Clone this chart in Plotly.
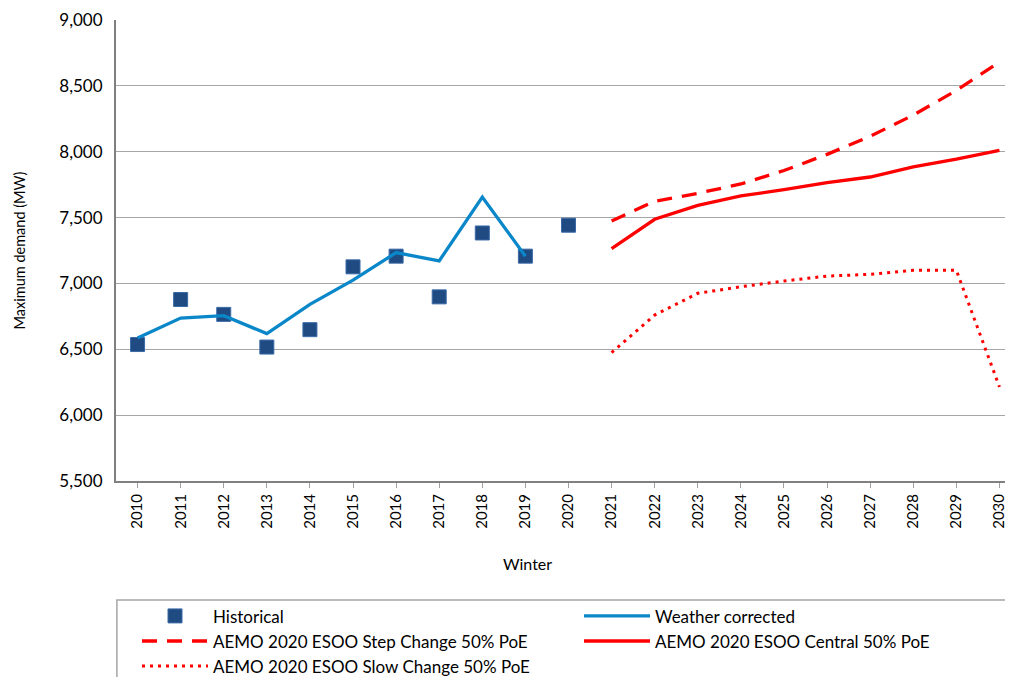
import plotly.graph_objects as go

years = list(range(2010, 2031))
hist_years = list(range(2010, 2021))
historical = [6536, 6878, 6765, 6517, 6649, 7126, 7207, 6898, 7383, 7207, 7442]
wc_years = list(range(2010, 2020))
weather_corrected = [6586, 6737, 6755, 6619, 6841, 7025, 7234, 7171, 7656, 7207]
fc_years = list(range(2021, 2031))
step_change = [7474, 7624, 7684, 7755, 7857, 7980, 8117, 8278, 8465, 8680]
central = [7265, 7487, 7593, 7664, 7712, 7766, 7808, 7884, 7943, 8011]
slow_change = [6475, 6760, 6925, 6975, 7018, 7056, 7069, 7100, 7100, 6214]
tick_labels = [str(y) for y in years]

FONT = "Lato"
fig = go.Figure()
fig.add_trace(go.Scatter(x=hist_years, y=historical, mode="markers", name="Historical",
                         marker=dict(symbol="square", size=14, color="#1F4A82",
                                     line=dict(color="#3A6BA8", width=1))))
fig.add_trace(go.Scatter(x=wc_years, y=weather_corrected, mode="lines", name="Weather corrected",
                         line=dict(color="#0A87C9", width=3.3)))
fig.add_trace(go.Scatter(x=fc_years, y=step_change, mode="lines",
                         name="AEMO 2020 ESOO Step Change 50% PoE",
                         line=dict(color="#FF0000", width=3.3, dash="15px,10px")))
fig.add_trace(go.Scatter(x=fc_years, y=central, mode="lines",
                         name="AEMO 2020 ESOO Central 50% PoE",
                         line=dict(color="#FF0000", width=3.3)))
fig.add_trace(go.Scatter(x=fc_years, y=slow_change, mode="lines",
                         name="AEMO 2020 ESOO Slow Change 50% PoE",
                         line=dict(color="#FF0000", width=3, dash="3px,5px")))

# legend frame (page px 117..1010 wide, top at 600)
fig.add_shape(type="rect", xref="paper", yref="paper",
              x0=0.001, x1=0.992, y0=-0.258, y1=-0.45,
              line=dict(color="#A6A6A6", width=1.5), fillcolor="rgba(0,0,0,0)", layer="above")
fig.add_annotation(text="Winter", xref="paper", yref="paper", x=0.455, y=-0.178,
                   xanchor="center", yanchor="middle", showarrow=False,
                   font=dict(family=FONT, size=16, color="#000000"))

fig.update_layout(
    width=1013, height=677,
    margin=dict(l=108, r=0, t=12, b=204),
    paper_bgcolor="white", plot_bgcolor="white",
    font=dict(family=FONT, color="#000000", size=15),
    showlegend=True,
    legend=dict(orientation="h", x=0.0453, xanchor="left", xref="paper",
                y=0.128, yanchor="top", yref="container",
                entrywidth=361, entrywidthmode="pixels",
                borderwidth=0, bgcolor="rgba(0,0,0,0)",
                font=dict(family=FONT, size=17), tracegroupgap=0,
                itemwidth=66),
    xaxis=dict(range=[2009.5, 2030.5], tickmode="array", tickvals=years, ticktext=tick_labels,
               tickangle=-90, tickfont=dict(size=15), showgrid=False,
               showline=True, linecolor="#808080", linewidth=2,
               ticks="outside", ticklen=5, tickcolor="#A0A0A0", zeroline=False),
    yaxis=dict(range=[5500, 9000], dtick=500, tickformat=",", tickfont=dict(size=17),
               showgrid=True, gridcolor="#A6A6A6", gridwidth=1.2,
               showline=True, linecolor="#808080", linewidth=2,
               ticks="", zeroline=False, ticklabelstandoff=8,
               title=dict(text="Maximum demand (MW)", font=dict(size=14.5), standoff=30)),
)
fig.write_html("out.html")
